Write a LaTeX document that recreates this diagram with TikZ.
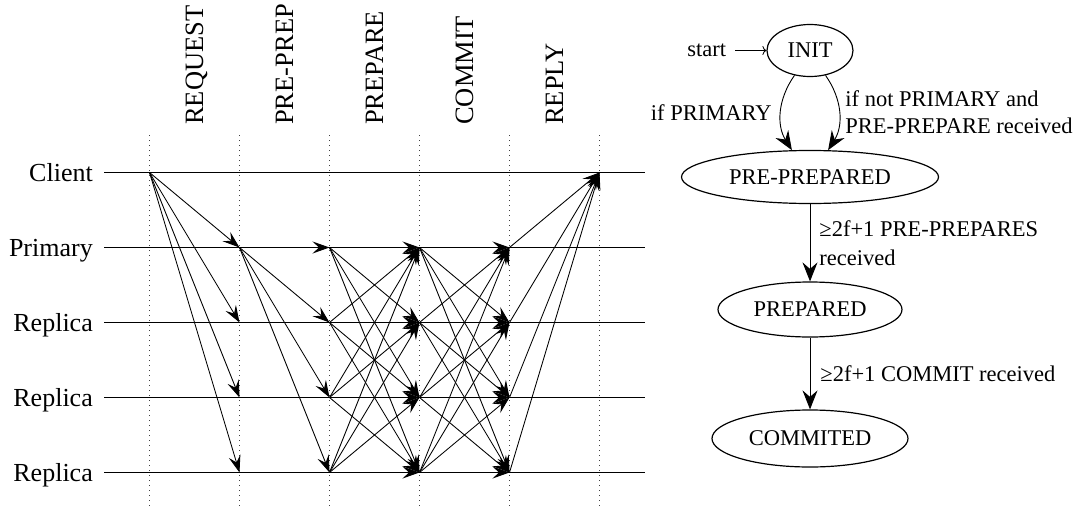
\documentclass[tikz,border=0pt]{standalone}
\usepackage{fontspec}
\setmainfont{Liberation Serif}
\usetikzlibrary{arrows.meta,shapes.geometric}
\begin{document}
\begin{tikzpicture}[x=1pt,y=1pt,
  lane/.style={line width=1.1pt},
  tick/.style={line width=0.9pt, dash pattern=on 0.9pt off 4.1pt, black!75},
  msg/.style={line width=0.85pt, -{Stealth[length=17pt,width=12pt,inset=6.5pt]}},
  role/.style={anchor=base east, inner sep=0pt, font=\fontsize{26}{30}\selectfont},
  phase/.style={rotate=90, anchor=base west, inner sep=0pt, font=\fontsize{26.5}{30}\selectfont},
  state/.style={ellipse, draw, line width=1.2pt, inner sep=0pt, font=\fontsize{22.5}{27}\selectfont},
  trans/.style={line width=0.9pt, -{Stealth[length=19pt,width=15pt,inset=6.5pt]}},
  tlabel/.style={inner sep=0pt, align=left, font=\fontsize{22.5}{27}\selectfont},
]
\useasboundingbox (0,0) rectangle (1081,-514);

% phase columns (dotted)
\foreach \c in {0,...,5}{
  \pgfmathsetmacro\xc{149.5+90*\c}
  \coordinate (top-\c) at (\xc,-135);
  \coordinate (bot-\c) at (\xc,-508);
  \draw[tick] (top-\c) -- (bot-\c);
}

% participant time lines
\foreach \r/\y/\txt in {0/172.5/Client,1/247.5/Primary,2/322.5/Replica,3/397.5/Replica,4/472.5/Replica}{
  \node[role] (role-\r) at (93,-\y-9) {\txt};
  \coordinate (beg-\r) at (104,-\y);
  \coordinate (end-\r) at (645,-\y);
  \draw[lane] (beg-\r) -- (end-\r);
  \foreach \c in {0,...,5}{
    \coordinate (p-\r-\c) at (149.5+90*\c,-\y);
  }
}

% phase names
\foreach \c/\txt in {0/REQUEST,1/PRE-PREP,2/PREPARE,3/COMMIT,4/REPLY}
  \node[phase] (phase-\c) at (203+90*\c,-125) {\txt};

% messages
\foreach \s in {1,...,4} \draw[msg] (p-0-0) -- (p-\s-1);
\foreach \s in {1,...,4} \draw[msg] (p-1-1) -- (p-\s-2);
\foreach \r in {1,...,4}{
  \foreach \s in {1,...,4}{
    \draw[msg] (p-\r-2) -- (p-\s-3);
    \draw[msg] (p-\r-3) -- (p-\s-4);
  }
}
\foreach \r in {1,...,4} \draw[msg] (p-\r-4) -- (p-0-5);

% replica state machine
\node[state, minimum width=86pt, minimum height=52pt] (init) at (810,-50.5) {INIT};
\node[state, minimum width=257pt, minimum height=53pt] (pp) at (810,-177) {PRE-PREPARED};
\node[state, minimum width=184pt, minimum height=55pt] (prep) at (810,-309.5) {PREPARED};
\node[state, minimum width=196pt, minimum height=57pt] (comm) at (810,-438.5) {COMMITED};

\node[tlabel, anchor=east] (start) at ([xshift=-40pt]init.west) {start};
\draw[line width=0.8pt, -{To[length=4pt,width=9pt]}, shorten <=9pt] (start) -- (init);

\draw[trans] (init.238) to[out=235,in=122]
  node[tlabel, anchor=east, xshift=-9pt] {if PRIMARY} (pp.124);
\draw[trans] (init.302) to[out=-55,in=58]
  node[tlabel, anchor=west, xshift=6pt] {if not PRIMARY and\\PRE-PREPARE received} (pp.56);
\draw[trans] (pp) -- node[tlabel, anchor=west, xshift=9pt] {≥2f+1 PRE-PREPARES\\[2pt]received} (prep);
\draw[trans] (prep) -- node[tlabel, anchor=west, xshift=10pt] {≥2f+1 COMMIT received} (comm);
\end{tikzpicture}
\end{document}
